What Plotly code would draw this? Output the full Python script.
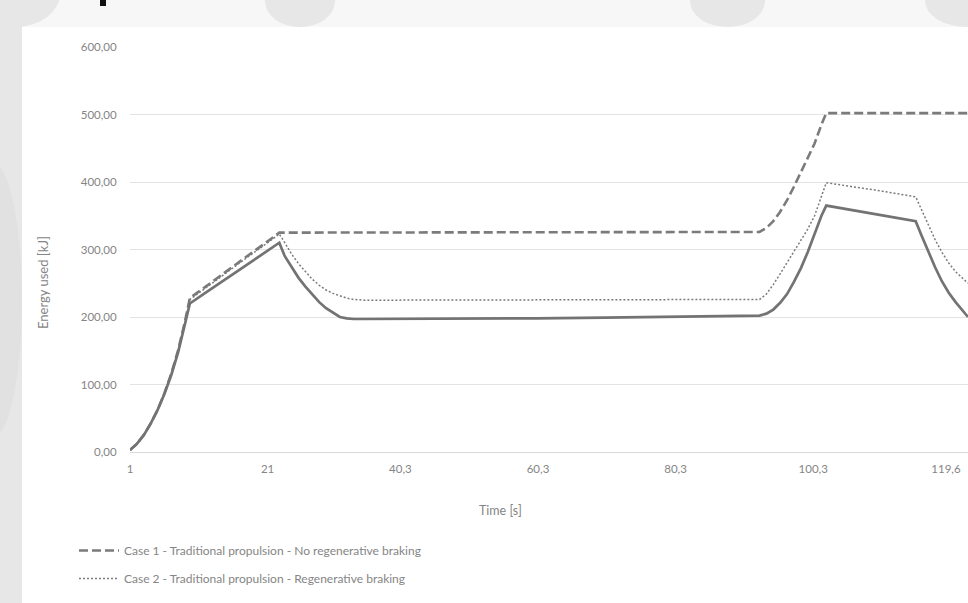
import plotly.graph_objects as go

# ---- data ----
time_s = [1, 2, 3, 4, 5, 6, 7, 8, 9, 9.7,
          12, 15, 18, 21, 22.7,
          23.5, 24.5, 25.5, 26.5, 27.5, 28.5, 29.5, 30.5, 31.5, 32.5, 33.5, 35,
          40, 50, 60, 70, 80, 90,
          92.5, 93.5, 94.5, 95.5, 96.5, 97.5, 98.5, 99.5, 100.5, 101.5, 102.2,
          106, 110, 115.2,
          116, 117, 118, 119, 120, 121, 122, 122.8]

case1_no_regen = [3, 12, 25, 42, 62, 87, 116, 151, 194, 228,
                  245, 268, 290, 312, 325,
                  325, 325, 325, 325, 325, 325, 325, 325, 325, 325, 325, 325,
                  325, 325, 325, 325, 325, 325,
                  326, 332, 342, 356, 373, 393, 415, 436, 457, 485, 502,
                  502, 502, 502,
                  502, 502, 502, 502, 502, 502, 502, 502]

case2_regen = [3, 12, 25, 42, 62, 87, 116, 150, 192, 226,
               243, 266, 288, 310, 323,
               310, 293, 279, 267, 256, 247, 240, 235, 231, 228, 226, 225,
               225, 225, 225, 225, 225, 225,
               226, 234, 248, 264, 280, 296, 312, 330, 350, 377, 399,
               393, 387, 378,
               360, 336, 315, 296, 280, 267, 257, 250]

case3_solid = [3, 12, 25, 42, 62, 86, 114, 148, 190, 220,
               236, 257, 277, 298, 310,
               290, 273, 258, 245, 233, 222, 213, 206, 200, 198, 197, 197,
               197, 197, 198, 199, 200, 201,
               202, 205, 211, 221, 234, 252, 272, 296, 323, 350, 365,
               358, 351, 342,
               322, 297, 274, 253, 236, 222, 209, 200]

x_tick_vals = [1, 21, 40.3, 60.3, 80.3, 100.3, 119.6]
x_tick_text = ["1", "21", "40,3", "60,3", "80,3", "100,3", "119,6"]
y_tick_vals = [0, 100, 200, 300, 400, 500, 600]
y_tick_text = ["0,00", "100,00", "200,00", "300,00", "400,00", "500,00", "600,00"]

name1 = "Case 1 - Traditional propulsion - No regenerative braking"
name2 = "Case 2 - Traditional propulsion - Regenerative braking"

# ---- layout geometry (pixels) ----
W, H = 968, 603
L, R, T, B = 130, 0, 47, 151
PW, PH = W - L - R, H - T - B


def px(x):
    return (x - L) / PW


def py(y):
    return (H - B - y) / PH


FONT = "Lato, 'Open Sans', sans-serif"
LINE = "#7b7b7b"
TXT = "#858585"

fig = go.Figure()
fig.add_trace(go.Scatter(x=time_s, y=case1_no_regen, mode="lines", name=name1,
                         legendgroup="g1",
                         line=dict(color=LINE, width=2.6, dash="9px,4px")))
fig.add_trace(go.Scatter(x=time_s, y=case2_regen, mode="lines", name=name2,
                         legendgroup="g2",
                         line=dict(color=LINE, width=1.5, dash="2px,2px")))
fig.add_trace(go.Scatter(x=time_s, y=case3_solid, mode="lines", showlegend=False,
                         legendgroup="g3",
                         line=dict(color="#737373", width=2.7)))

BG1 = "#e7e7e7"
shapes = [
    # faded background outside the chart box (left and top strips)
    dict(type="rect", xref="paper", yref="paper", x0=px(0), x1=px(W), y0=py(27), y1=py(0),
         fillcolor="#f7f7f7", line_width=0, layer="above"),
    dict(type="rect", xref="paper", yref="paper", x0=px(0), x1=px(22), y0=py(H), y1=py(0),
         fillcolor=BG1, line_width=0, layer="above"),
    dict(type="circle", xref="paper", yref="paper", x0=px(-40), x1=px(22), y0=py(440), y1=py(160),
         fillcolor="#e1e1e1", line_width=0, layer="above"),
    dict(type="circle", xref="paper", yref="paper", x0=px(-30), x1=px(60), y0=py(27), y1=py(-40),
         fillcolor=BG1, line_width=0, layer="above"),
    dict(type="circle", xref="paper", yref="paper", x0=px(265), x1=px(335), y0=py(27), y1=py(-25),
         fillcolor=BG1, line_width=0, layer="above"),
    dict(type="circle", xref="paper", yref="paper", x0=px(690), x1=px(765), y0=py(27), y1=py(-25),
         fillcolor=BG1, line_width=0, layer="above"),
    dict(type="circle", xref="paper", yref="paper", x0=px(925), x1=px(1010), y0=py(27), y1=py(-25),
         fillcolor=BG1, line_width=0, layer="above"),
    dict(type="rect", xref="paper", yref="paper", x0=px(100), x1=px(106), y0=py(6), y1=py(0),
         fillcolor="#111111", line_width=0, layer="above"),
]

fig.update_layout(
    width=W, height=H,
    margin=dict(l=L, r=R, t=T, b=B, autoexpand=False),
    paper_bgcolor="#ffffff", plot_bgcolor="#ffffff",
    font=dict(family=FONT, size=11, color=TXT),
    showlegend=True,
    legend=dict(x=px(74), y=py(536), xanchor="left", yanchor="top",
                orientation="v", tracegroupgap=9, bgcolor="rgba(0,0,0,0)",
                itemwidth=40,
                font=dict(family=FONT, size=12, color=TXT)),
    xaxis=dict(range=[1, 122.8], tickmode="array", tickvals=x_tick_vals, ticktext=x_tick_text,
               showgrid=False, zeroline=False, showline=True, linecolor="#d9d9d9", linewidth=1,
               ticks="outside", ticklen=6, tickcolor="rgba(0,0,0,0)",
               tickfont=dict(family=FONT, size=11.5, color=TXT)),
    yaxis=dict(range=[0, 600], tickmode="array", tickvals=y_tick_vals, ticktext=y_tick_text,
               showgrid=True, gridcolor="#e3e3e3", gridwidth=1, zeroline=False,
               ticks="outside", ticklen=10, tickcolor="rgba(0,0,0,0)",
               tickfont=dict(family=FONT, size=11.5, color=TXT)),
    shapes=shapes,
    annotations=[
        dict(text="Time [s]", xref="paper", yref="paper", x=px(500), y=py(510),
             xanchor="center", yanchor="middle", showarrow=False,
             font=dict(family=FONT, size=12.5, color=TXT)),
        dict(text="Energy used [kJ]", xref="paper", yref="paper", x=px(43), y=py(283),
             xanchor="center", yanchor="middle", showarrow=False, textangle=-90,
             font=dict(family=FONT, size=13, color=TXT)),
    ],
)

fig.write_html("out.html", config={"displayModeBar": False},
               post_script="document.body.style.margin='0';")
